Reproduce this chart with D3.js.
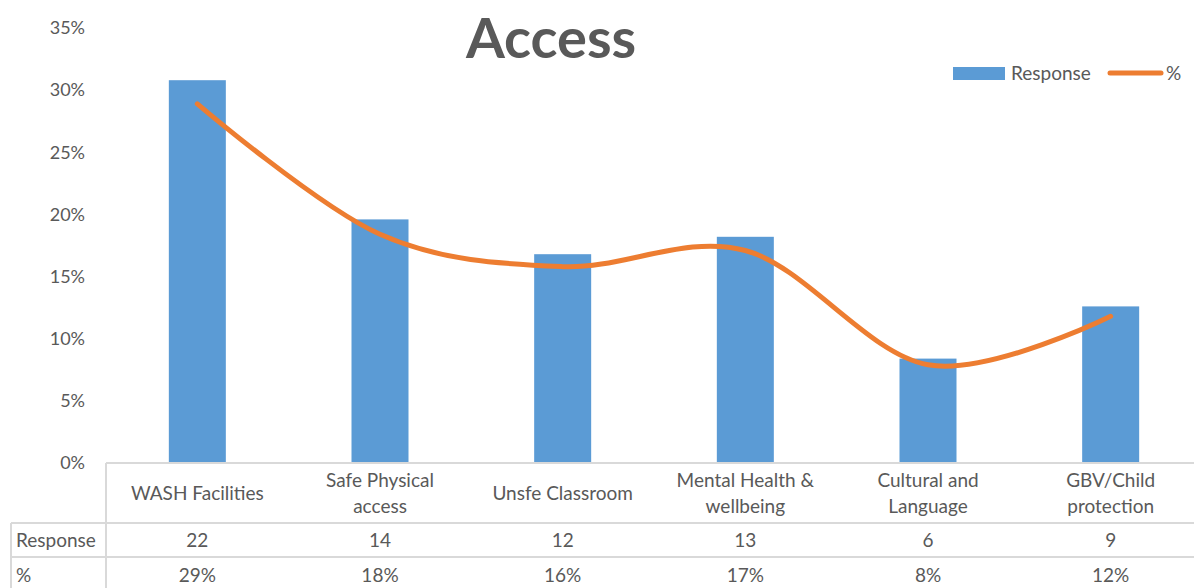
<!DOCTYPE html>
<html>
<head>
<meta charset="utf-8">
<script src="https://cdn.jsdelivr.net/npm/d3@7"></script>
<style>
  body { margin: 0; background: #fff; }
  svg { display: block; font-family: Lato, "Open Sans", sans-serif; }
</style>
</head>
<body>
<div id="chart"></div>
<script>
// chart values
var categories = ["WASH Facilities", "Safe Physical access", "Unsfe Classroom", "Mental Health & wellbeing", "Cultural and Language", "GBV/Child protection"];
var categoryLines = [["WASH Facilities"], ["Safe Physical", "access"], ["Unsfe Classroom"], ["Mental Health &", "wellbeing"], ["Cultural and", "Language"], ["GBV/Child", "protection"]];
var responses = [22, 14, 12, 13, 6, 9];
var percents = [0.289, 0.184, 0.158, 0.171, 0.079, 0.118];
var yTicks = [0, 0.05, 0.10, 0.15, 0.20, 0.25, 0.30, 0.35];
var seriesNames = ["Response", "%"];

var width = 1194, height = 588;
var plotLeft = 106, plotRight = 1202, plotTop = 28, plotBottom = 463;
var tableLeft = 11;
var textColor = '#595959';
var gridColor = '#d9d9d9';
var barColor = '#5b9bd5';
var lineColor = '#ed7d31';
var fs = 19;

var svg = d3.select('#chart')
  .append('svg')
  .attr('width', width)
  .attr('height', height);

var x = d3.scaleBand()
  .domain(categories)
  .range([plotLeft, plotRight])
  .paddingInner(0)
  .paddingOuter(0);

var y = d3.scaleLinear()
  .domain([0, 0.35])
  .range([plotBottom, plotTop]);

// hidden secondary axis for the bars
var y2 = d3.scaleLinear()
  .domain([0, 25])
  .range([plotBottom, plotTop]);

// title
svg.append('text')
  .attr('x', 551)
  .attr('y', 58)
  .attr('text-anchor', 'middle')
  .attr('font-size', 56)
  .attr('font-weight', 'bold')
  .attr('fill', textColor)
  .text('Access');

// y axis labels
var yAxis = d3.axisLeft(y)
  .tickValues(yTicks)
  .tickFormat(d3.format('.0%'))
  .tickSize(0)
  .tickPadding(0);
var yg = svg.append('g')
  .attr('transform', 'translate(85,0)')
  .call(yAxis);
yg.select('.domain').remove();
yg.selectAll('text')
  .attr('font-family', 'Lato, "Open Sans", sans-serif')
  .attr('font-size', 18)
  .attr('fill', textColor);

// bars
var barWidth = 57;
svg.selectAll('.bar')
  .data(responses)
  .enter()
  .append('rect')
  .attr('class', 'bar')
  .attr('x', function(d, i) { return x(categories[i]) + x.bandwidth() / 2 - barWidth / 2; })
  .attr('y', function(d) { return y2(d); })
  .attr('width', barWidth)
  .attr('height', function(d) { return plotBottom - y2(d); })
  .attr('fill', barColor);

// smoothed line
var line = d3.line()
  .x(function(d, i) { return x(categories[i]) + x.bandwidth() / 2; })
  .y(function(d) { return y(d); })
  .curve(d3.curveCardinal.tension(0));
svg.append('path')
  .datum(percents)
  .attr('d', line)
  .attr('fill', 'none')
  .attr('stroke', lineColor)
  .attr('stroke-width', 5)
  .attr('stroke-linecap', 'round');

// data table
var rowLines = [plotBottom, 523, 557];
var tbl = svg.append('g');
tbl.append('line')
  .attr('x1', plotLeft).attr('x2', width)
  .attr('y1', rowLines[0]).attr('y2', rowLines[0])
  .attr('stroke', gridColor).attr('stroke-width', 2);
tbl.selectAll('.hrow')
  .data(rowLines.slice(1))
  .enter()
  .append('line')
  .attr('x1', tableLeft).attr('x2', width)
  .attr('y1', function(d) { return d; }).attr('y2', function(d) { return d; })
  .attr('stroke', gridColor).attr('stroke-width', 2);
tbl.append('line')
  .attr('x1', plotLeft).attr('x2', plotLeft)
  .attr('y1', plotBottom).attr('y2', height)
  .attr('stroke', gridColor).attr('stroke-width', 2);
tbl.append('line')
  .attr('x1', tableLeft).attr('x2', tableLeft)
  .attr('y1', 523).attr('y2', height)
  .attr('stroke', gridColor).attr('stroke-width', 2);

// category labels
var catText = tbl.selectAll('.cat')
  .data(categoryLines)
  .enter()
  .append('text')
  .attr('class', 'cat')
  .attr('text-anchor', 'middle')
  .attr('font-size', fs)
  .attr('fill', textColor)
  .attr('transform', function(d, i) { return 'translate(' + (x(categories[i]) + x.bandwidth() / 2) + ',' + (d.length > 1 ? 487 : 500) + ')'; });
catText.selectAll('tspan')
  .data(function(d) { return d; })
  .enter()
  .append('tspan')
  .attr('x', 0)
  .attr('dy', function(d, i) { return i === 0 ? 0 : 26; })
  .text(function(d) { return d; });

// row headers and values
var rows = [
  { name: seriesNames[0], values: responses, fmt: d3.format('d'), y: 547 },
  { name: seriesNames[1], values: percents, fmt: d3.format('.0%'), y: 582 }
];
rows.forEach(function(r) {
  tbl.append('text')
    .attr('x', 16)
    .attr('y', r.y)
    .attr('font-size', fs)
    .attr('fill', textColor)
    .text(r.name);
  tbl.selectAll(null)
    .data(r.values)
    .enter()
    .append('text')
    .attr('x', function(d, i) { return x(categories[i]) + x.bandwidth() / 2; })
    .attr('y', r.y)
    .attr('text-anchor', 'middle')
    .attr('font-size', fs)
    .attr('fill', textColor)
    .text(function(d) { return r.fmt(d); });
});

// legend
var legend = svg.append('g');
legend.append('rect')
  .attr('x', 953).attr('y', 67)
  .attr('width', 52).attr('height', 13)
  .attr('fill', barColor);
legend.append('text')
  .attr('x', 1011).attr('y', 80)
  .attr('font-size', fs).attr('fill', textColor)
  .text(seriesNames[0]);
legend.append('line')
  .attr('x1', 1110).attr('x2', 1161)
  .attr('y1', 73).attr('y2', 73)
  .attr('stroke', lineColor).attr('stroke-width', 5)
  .attr('stroke-linecap', 'round');
legend.append('text')
  .attr('x', 1166).attr('y', 80)
  .attr('font-size', fs).attr('fill', textColor)
  .text(seriesNames[1]);
</script>
</body>
</html>
